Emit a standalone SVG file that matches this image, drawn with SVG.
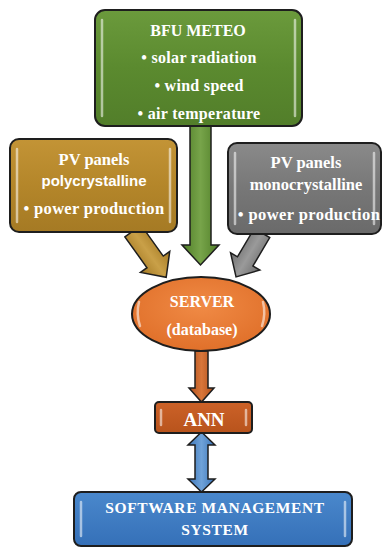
<svg xmlns="http://www.w3.org/2000/svg" width="384" height="549" viewBox="0 0 384 549">
  <defs>
    <linearGradient id="gGreen" x1="0" y1="0" x2="0" y2="1">
      <stop offset="0" stop-color="#6b9a3c"/>
      <stop offset="0.5" stop-color="#5b8a2f"/>
      <stop offset="1" stop-color="#527e2a"/>
    </linearGradient>
    <linearGradient id="gGold" x1="0" y1="0" x2="0" y2="1">
      <stop offset="0" stop-color="#c39436"/>
      <stop offset="0.5" stop-color="#b4862a"/>
      <stop offset="1" stop-color="#a57a24"/>
    </linearGradient>
    <linearGradient id="gGray" x1="0" y1="0" x2="0" y2="1">
      <stop offset="0" stop-color="#8a8a8a"/>
      <stop offset="0.5" stop-color="#777777"/>
      <stop offset="1" stop-color="#6a6a6a"/>
    </linearGradient>
    <radialGradient id="gOrange" cx="0.5" cy="0.4" r="0.6">
      <stop offset="0" stop-color="#f08a45"/>
      <stop offset="1" stop-color="#e0702a"/>
    </radialGradient>
    <linearGradient id="gBrown" x1="0" y1="0" x2="0" y2="1">
      <stop offset="0" stop-color="#cc6228"/>
      <stop offset="1" stop-color="#b8531c"/>
    </linearGradient>
    <linearGradient id="gBlue" x1="0" y1="0" x2="0" y2="1">
      <stop offset="0" stop-color="#4a88cc"/>
      <stop offset="1" stop-color="#3570b8"/>
    </linearGradient>
    <linearGradient id="gArrowGreen" x1="0" y1="0" x2="1" y2="0">
      <stop offset="0" stop-color="#4f7d27"/>
      <stop offset="0.5" stop-color="#77a44a"/>
      <stop offset="1" stop-color="#4f7d27"/>
    </linearGradient>
    <linearGradient id="gArrowGold" x1="0" y1="0" x2="1" y2="0">
      <stop offset="0" stop-color="#a57a24"/>
      <stop offset="0.5" stop-color="#c9a048"/>
      <stop offset="1" stop-color="#a57a24"/>
    </linearGradient>
    <linearGradient id="gArrowGray" x1="0" y1="0" x2="1" y2="0">
      <stop offset="0" stop-color="#6e6e6e"/>
      <stop offset="0.5" stop-color="#9a9a9a"/>
      <stop offset="1" stop-color="#6e6e6e"/>
    </linearGradient>
    <linearGradient id="gArrowBrown" x1="0" y1="0" x2="1" y2="0">
      <stop offset="0" stop-color="#b0501c"/>
      <stop offset="0.5" stop-color="#d8763a"/>
      <stop offset="1" stop-color="#b0501c"/>
    </linearGradient>
    <linearGradient id="gArrowBlue" x1="0" y1="0" x2="1" y2="0">
      <stop offset="0" stop-color="#3a74b8"/>
      <stop offset="0.5" stop-color="#6fa2d8"/>
      <stop offset="1" stop-color="#3a74b8"/>
    </linearGradient>
  </defs>
  <style>
    .box { stroke: #1e1e1e; stroke-width: 2; }
    .arrow { stroke: #1e1e1e; stroke-width: 1.5; stroke-linejoin: miter; }
    .hl { stroke: #ffffff; stroke-opacity: 0.55; stroke-width: 2.5; stroke-linecap: round; fill: none; }
    .t { fill: #ffffff; font-weight: bold; text-anchor: middle; }
    .s { fill: #ffffff; font-weight: bold; text-anchor: middle; }
  </style>
  <rect width="384" height="549" fill="#ffffff"/>

  <g id="connectors">
    <!-- BFU METEO to SERVER -->
    <polygon class="arrow" fill="url(#gArrowGreen)" points="190,126 211,126 211,245 219,245 200.5,265 182,245 190,245"/>
    <!-- polycrystalline panels to SERVER -->
    <g transform="translate(133,231) rotate(-35.6)">
      <polygon class="arrow" fill="url(#gArrowGold)" points="-10,0 10,0 10,38 18,38 0,57 -18,38 -10,38"/>
    </g>
    <!-- monocrystalline panels to SERVER -->
    <g transform="translate(262,233) rotate(30.6)">
      <polygon class="arrow" fill="url(#gArrowGray)" points="-9,0 9,0 9,33 17,33 0,51 -17,33 -9,33"/>
    </g>
    <!-- SERVER to ANN -->
    <polygon class="arrow" fill="url(#gArrowBrown)" points="195,351 208,351 208,388 214,388 201.5,402 189,388 195,388"/>
    <!-- ANN to SOFTWARE MANAGEMENT SYSTEM (both ways) -->
    <polygon class="arrow" fill="url(#gArrowBlue)" points="201.5,432 215,445 208,445 208,479 215,479 201.5,492 188,479 195,479 195,445 188,445"/>
  </g>

  <g font-family="'Liberation Serif', 'Times New Roman', serif">
  <g id="bfu-meteo">
    <rect class="box" x="95" y="10" width="207" height="116" rx="10" fill="url(#gGreen)"/>
    <line class="hl" x1="102" y1="20" x2="102" y2="116"/>
    <line class="hl" x1="295" y1="20" x2="295" y2="116"/>
    <text class="t" x="198" y="36" font-size="16">BFU METEO</text>
    <text class="t" x="199" y="63" font-size="16" letter-spacing="0.3">• solar radiation</text>
    <text class="t" x="199" y="91" font-size="16" letter-spacing="0.3">• wind speed</text>
    <text class="t" x="199" y="119" font-size="16" letter-spacing="0.3">• air temperature</text>
  </g>

  <g id="pv-polycrystalline">
    <rect class="box" x="10" y="139" width="167" height="93" rx="9" fill="url(#gGold)"/>
    <line class="hl" x1="17" y1="149" x2="17" y2="222"/>
    <line class="hl" x1="170" y1="149" x2="170" y2="222"/>
    <text class="t" x="94" y="165" font-size="16.5">PV panels</text>
    <text class="s" x="94" y="186" font-size="15" font-family="'Liberation Sans', Arial, sans-serif">polycrystalline</text>
    <text class="t" x="94" y="214" font-size="16.5" letter-spacing="0.3">• power production</text>
  </g>

  <g id="pv-monocrystalline">
    <rect class="box" x="228" y="143" width="153" height="91" rx="9" fill="url(#gGray)"/>
    <line class="hl" x1="235" y1="153" x2="235" y2="224"/>
    <line class="hl" x1="374" y1="153" x2="374" y2="224"/>
    <text class="t" x="306" y="168" font-size="16.5">PV panels</text>
    <text class="t" x="306" y="190" font-size="16.5">monocrystalline</text>
    <text class="t" x="309" y="220" font-size="16.5" letter-spacing="0.4">• power production</text>
  </g>

  <g id="server">
    <ellipse class="box" cx="201" cy="314" rx="69" ry="37" fill="url(#gOrange)"/>
    <path class="hl" d="M139,302 Q136,314 140,326"/>
    <path class="hl" d="M263,302 Q266,314 262,326"/>
    <text class="t" x="202" y="307" font-size="16">SERVER</text>
    <text class="t" x="202" y="335" font-size="16">(database)</text>
  </g>

  <g id="ann">
    <rect class="box" x="155" y="402" width="97" height="31" rx="4" fill="url(#gBrown)"/>
    <line class="hl" x1="161" y1="410" x2="161" y2="425" stroke-opacity="0.35"/>
    <line class="hl" x1="246" y1="410" x2="246" y2="425" stroke-opacity="0.35"/>
    <text class="t" x="204" y="426" font-size="19">ANN</text>
  </g>

  <g id="software-management-system">
    <rect class="box" x="74" y="492" width="278" height="54" rx="7" fill="url(#gBlue)"/>
    <line class="hl" x1="81" y1="502" x2="81" y2="536"/>
    <line class="hl" x1="345" y1="502" x2="345" y2="536"/>
    <text class="t" x="215" y="513" font-size="15.5" letter-spacing="0.6">SOFTWARE  MANAGEMENT</text>
    <text class="t" x="215" y="535" font-size="15.5" letter-spacing="0.6">SYSTEM</text>
  </g>
  </g>
</svg>
